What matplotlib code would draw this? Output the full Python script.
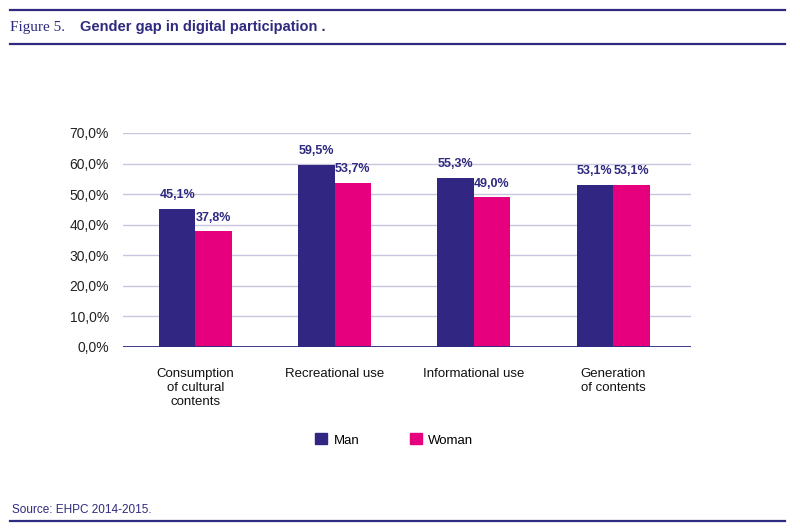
import matplotlib
matplotlib.use("Agg")
from matplotlib import pyplot as plt
from matplotlib.lines import Line2D
from matplotlib.patches import Patch
import numpy as np

categories = ["Consumption\nof cultural\ncontents", "Recreational use",
              "Informational use", "Generation\nof contents"]
man = [45.1, 59.5, 55.3, 53.1]
woman = [37.8, 53.7, 49.0, 53.1]
yticks = [0, 10, 20, 30, 40, 50, 60, 70]

NAVY = "#2e2a7f"
MAN_C = "#312783"
WOMAN_C = "#e6007e"
GRID_C = "#c9c5de"

plt.rcParams["font.family"] = ["Liberation Sans", "DejaVu Sans"]

W, H = 800, 531
fig = plt.figure(figsize=(W / 100, H / 100), dpi=100)

# axes placed in pixel coords of the reference
ax = fig.add_axes([123 / W, (H - 347) / H, 568 / W, 214 / H])

x = np.arange(len(categories))
bw = 0.262
ax.bar(x - bw / 2, man, bw, color=MAN_C, zorder=3)
ax.bar(x + bw / 2, woman, bw, color=WOMAN_C, zorder=3)

def fmt(v):
    return ("%.1f%%" % v).replace(".", ",")

for i in range(len(categories)):
    ax.annotate(fmt(man[i]), (x[i] - bw / 2, man[i]), xytext=(0, 5.5),
                textcoords="offset points", ha="center", va="bottom",
                fontsize=9, fontweight="bold", color=NAVY)
    ax.annotate(fmt(woman[i]), (x[i] + bw / 2, woman[i]), xytext=(0, 5.5),
                textcoords="offset points", ha="center", va="bottom",
                fontsize=9, fontweight="bold", color=NAVY)

ax.set_xlim(-0.52, 3.56)
ax.set_ylim(0, 70)
ax.set_yticks(yticks)
ax.set_yticklabels([("%.1f%%" % t).replace(".", ",") for t in yticks],
                   fontsize=10, color="#222222")
ax.set_xticks(x)
ax.set_xticklabels(categories, fontsize=9.5, color="#111111", va="top",
                   linespacing=1.25)
ax.tick_params(axis="both", length=0)
ax.tick_params(axis="y", pad=10)
ax.tick_params(axis="x", pad=15)

for t in yticks[1:]:
    ax.axhline(t, color=GRID_C, lw=1, zorder=1)
ax.axhline(0, color=NAVY, lw=1.3, zorder=4)
for s in ax.spines.values():
    s.set_visible(False)

handles = [Patch(color=MAN_C, label="Man"), Patch(color=WOMAN_C, label="Woman")]
fig.legend(handles=handles, loc="center", bbox_to_anchor=(0.493, 1 - 440 / H),
           ncol=2, frameon=False, fontsize=9.5, handlelength=0.9,
           handleheight=0.9, handletextpad=0.5, columnspacing=3.8)

# header and footer rules
for yy in [10, 44, 521]:
    fig.add_artist(Line2D([10 / W, 785 / W], [1 - yy / H, 1 - yy / H],
                          color=NAVY, lw=1.6, transform=fig.transFigure))

fig.text(10 / W, 1 - 27 / H, "Figure 5.", fontsize=11, color=NAVY,
         family="Liberation Serif", va="center", ha="left")
fig.text(80 / W, 1 - 27 / H, "Gender gap in digital participation .",
         fontsize=10.5, color=NAVY, fontweight="bold", va="center", ha="left")
fig.text(12 / W, 1 - 510 / H, "Source: EHPC 2014-2015.", fontsize=8.5,
         color=NAVY, va="center", ha="left")

fig.savefig("out.png", dpi=100)
